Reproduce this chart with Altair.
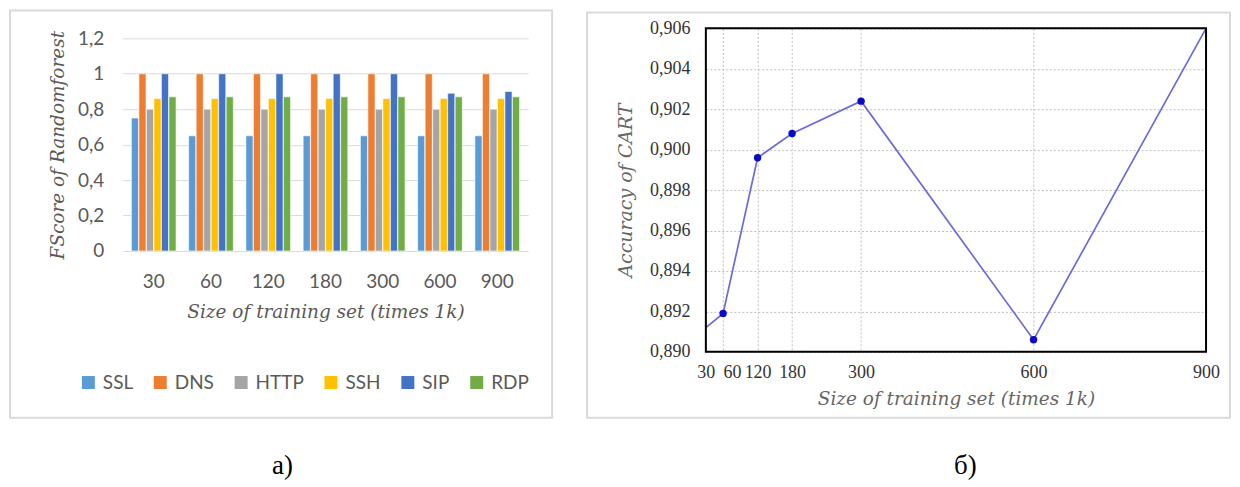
import altair as alt
import pandas as pd

# ---------------- data: left panel (FScore of Randomforest) ----------------
sizes = ["30", "60", "120", "180", "300", "600", "900"]
protocols = ["SSL", "DNS", "HTTP", "SSH", "SIP", "RDP"]
ssl = [0.75, 0.65, 0.65, 0.65, 0.65, 0.65, 0.65]
dns = [1.00, 1.00, 1.00, 1.00, 1.00, 1.00, 1.00]
http = [0.80, 0.80, 0.80, 0.80, 0.80, 0.80, 0.80]
ssh = [0.86, 0.86, 0.86, 0.86, 0.86, 0.86, 0.86]
sip = [1.00, 1.00, 1.00, 1.00, 1.00, 0.89, 0.90]
rdp = [0.87, 0.87, 0.87, 0.87, 0.87, 0.87, 0.87]
protocol_colors = ["#5B9BD5", "#ED7D31", "#A5A5A5", "#FFC000", "#4472C4", "#70AD47"]
fscore_ticks = [0, 0.2, 0.4, 0.6, 0.8, 1.0, 1.2]

# ---------------- data: right panel (Accuracy of CART) ----------------
cart_sizes = [30, 60, 120, 180, 300, 600, 900]
cart_acc = [0.8912, 0.8919, 0.8996, 0.9008, 0.9024, 0.8906, 0.9060]
cart_marked = [False, True, True, True, True, True, False]
cart_ticks = [0.890, 0.892, 0.894, 0.896, 0.898, 0.900, 0.902, 0.904, 0.906]

rows = []
for p, vals in zip(protocols, [ssl, dns, http, ssh, sip, rdp]):
    for s, v in zip(sizes, vals):
        rows.append({"size": s, "protocol": p, "fscore": v})
bar_df = pd.DataFrame(rows)
cart_df = pd.DataFrame({"size": cart_sizes, "acc": cart_acc, "marked": cart_marked})
one = pd.DataFrame({"k": [0]})

LW, LH = 406, 223
RW, RH = 501, 324

GRAY = "#595959"
TITLE_FONT = "DejaVu Serif"

# ---------------- left panel ----------------
bars = alt.Chart(bar_df).mark_bar(stroke="white", strokeWidth=0.6).encode(
    x=alt.X(
        "size:N", sort=sizes,
        scale=alt.Scale(paddingInner=0.22, paddingOuter=0.15),
        axis=alt.Axis(
            title="Size of training set (times 1k)", labelAngle=0, domain=False,
            ticks=False, labelPadding=22, labelFont="Lato", labelFontSize=19,
            labelColor=GRAY, titleFont=TITLE_FONT, titleFontStyle="italic",
            titleFontWeight="normal", titleFontSize=18.5, titleColor=GRAY,
            titlePadding=11,
        ),
    ),
    xOffset=alt.XOffset("protocol:N", sort=protocols, scale=alt.Scale(paddingInner=0.05)),
    y=alt.Y(
        "fscore:Q",
        scale=alt.Scale(domain=[0, 1.2], range=[LH, 10], nice=False),
        axis=alt.Axis(
            values=fscore_ticks,
            labelExpr="replace(format(datum.value, '.1~f'), '.', ',')",
            title="FScore of Randomforest", grid=True, gridColor="#d9d9d9",
            gridWidth=1, domain=False, ticks=False, labelPadding=19,
            labelFont="Lato", labelFontSize=19, labelColor=GRAY,
            titleFont=TITLE_FONT, titleFontStyle="italic", titleFontWeight="normal",
            titleFontSize=18.5, titleColor=GRAY, titlePadding=10,
        ),
    ),
    color=alt.Color(
        "protocol:N", sort=protocols,
        scale=alt.Scale(domain=protocols, range=protocol_colors),
        legend=alt.Legend(
            title=None, orient="none", legendX=-44, legendY=345,
            direction="horizontal", symbolType="square", symbolSize=169,
            symbolStrokeWidth=0, labelFont="Lato", labelFontSize=19,
            labelColor=GRAY, columnPadding=17, labelOffset=5,
        ),
    ),
)

left_frame = alt.Chart(one).mark_rect(filled=False, stroke="#d9d9d9", strokeWidth=2).encode(
    x=alt.value(-113), x2=alt.value(430), y=alt.value(-18), y2=alt.value(390)
)
left_label = alt.Chart(pd.DataFrame({"t": ["а)"]})).mark_text(
    font="Liberation Serif", fontSize=27, color="black", baseline="middle"
).encode(text="t:N", x=alt.value(160), y=alt.value(438))

left = alt.layer(left_frame, bars, left_label).properties(
    width=LW, height=LH, view=alt.ViewBackground(stroke="transparent")
)

# ---------------- right panel ----------------
xr = alt.X(
    "size:Q",
    scale=alt.Scale(domain=[30, 900], nice=False, zero=False),
    axis=alt.Axis(
        values=cart_sizes, title="Size of training set (times 1k)", grid=True,
        gridColor="#bfbfbf", gridDash=[2, 2], domain=False, ticks=False,
        labelFont="Liberation Serif", labelFontSize=18, labelColor="#333333",
        labelPadding=12, labelFlush=False, labelOverlap=False,
        labelAlign={"condition": {"test": "datum.value == 60", "value": "left"}, "value": "center"},
        titleFont=TITLE_FONT, titleFontStyle="italic", titleFontWeight="normal",
        titleFontSize=18.5, titleColor="#666666", titlePadding=8,
    ),
)
yr = alt.Y(
    "acc:Q",
    scale=alt.Scale(domain=[0.890, 0.906], nice=False, zero=False),
    axis=alt.Axis(
        values=cart_ticks,
        labelExpr="replace(format(datum.value, '.3f'), '.', ',')",
        title="Accuracy of CART", grid=True, gridColor="#bfbfbf", gridDash=[2, 2],
        domain=False, ticks=False, labelFont="Liberation Serif", labelFontSize=18,
        labelColor="#333333", labelPadding=16, titleFont=TITLE_FONT,
        titleFontStyle="italic", titleFontWeight="normal", titleFontSize=19,
        titleColor="#666666", titlePadding=14,
    ),
)

line = alt.Chart(cart_df).mark_line(color="#6b6bd9", strokeWidth=1.7).encode(x=xr, y=yr)
points = alt.Chart(cart_df).transform_filter("datum.marked").mark_circle(
    color="#0a0ac8", size=55, opacity=1
).encode(x=xr, y=yr)

plot_frame = alt.Chart(one).mark_rect(filled=False, stroke="#000000", strokeWidth=2).encode(
    x=alt.value(0), x2=alt.value(RW), y=alt.value(0), y2=alt.value(RH)
)
right_frame = alt.Chart(one).mark_rect(filled=False, stroke="#d9d9d9", strokeWidth=2).encode(
    x=alt.value(-119), x2=alt.value(525), y=alt.value(-16), y2=alt.value(390)
)
right_label = alt.Chart(pd.DataFrame({"t": ["б)"]})).mark_text(
    font="Liberation Serif", fontSize=27, color="black", baseline="middle"
).encode(text="t:N", x=alt.value(260), y=alt.value(438))

right = alt.layer(right_frame, line, points, plot_frame, right_label).properties(
    width=RW, height=RH, view=alt.ViewBackground(stroke="transparent")
)

chart = alt.hconcat(left, right, spacing=178, bounds="flush").properties(
    padding=0, background="white"
)

chart.save("out.html", embed_options={"renderer": "svg", "actions": False})
